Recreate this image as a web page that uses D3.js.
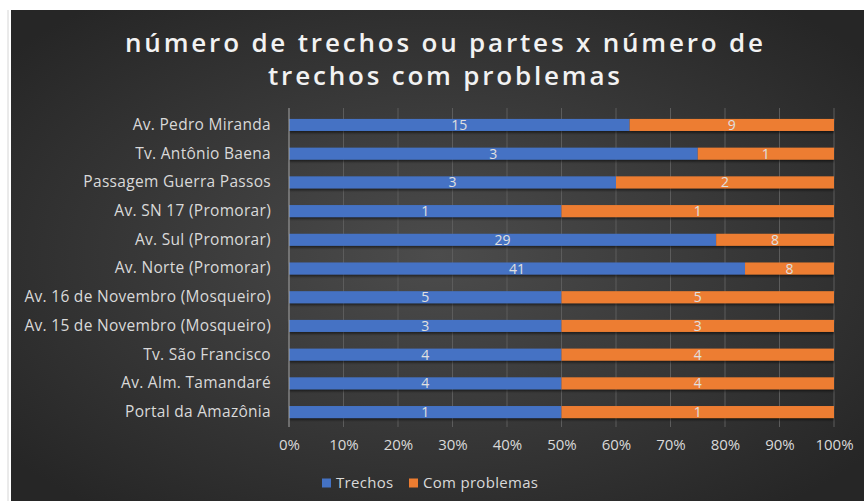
<!DOCTYPE html>
<html lang="en">
<head>
<meta charset="utf-8">
<script src="https://d3js.org/d3.v7.min.js"></script>
<style>
  body { margin: 0; background: #fff; }
  text { font-family: "Open Sans", Lato, sans-serif; }
</style>
</head>
<body>
<script>
// data (top bar first)
const categories = [
  "Av. Pedro Miranda",
  "Tv. Antônio Baena",
  "Passagem Guerra Passos",
  "Av. SN 17 (Promorar)",
  "Av. Sul (Promorar)",
  "Av. Norte (Promorar)",
  "Av. 16 de Novembro (Mosqueiro)",
  "Av. 15 de Novembro (Mosqueiro)",
  "Tv. São Francisco",
  "Av. Alm. Tamandaré",
  "Portal da Amazônia"
];
const trechos = [15, 3, 3, 1, 29, 41, 5, 3, 4, 4, 1];
const comProblemas = [9, 1, 2, 1, 8, 8, 5, 3, 4, 4, 1];
const seriesNames = ["Trechos", "Com problemas"];
const colors = ["#4472c4", "#ed7d31"];
const titleLines = ["número de trechos ou partes x número de", "trechos com problemas"];

const width = 864, height = 501;

const svg = d3.select("body").append("svg")
  .attr("width", width)
  .attr("height", height);

// background gradient like the excel style
const defs = svg.append("defs");
const grad = defs.append("radialGradient")
  .attr("id", "bg")
  .attr("cx", "50%").attr("cy", "50%").attr("r", "65%");
grad.append("stop").attr("offset", "0%").attr("stop-color", "#4c4c4c");
grad.append("stop").attr("offset", "100%").attr("stop-color", "#262626");

const shadow = defs.append("filter").attr("id", "shadow")
  .attr("x", "-5%").attr("y", "-30%").attr("width", "110%").attr("height", "180%");
shadow.append("feDropShadow")
  .attr("dx", 0).attr("dy", 2).attr("stdDeviation", 1.2)
  .attr("flood-color", "#000").attr("flood-opacity", 0.5);

// faint spreadsheet cells on the left
svg.append("line").attr("x1", 8).attr("x2", 8).attr("y1", 10).attr("y2", height)
  .attr("stroke", "#d6d6d6");
svg.append("rect")
  .attr("x", 11).attr("y", 10)
  .attr("width", width - 11).attr("height", height - 10)
  .attr("fill", "url(#bg)");

// title (spaced out like the original)
const titleW = [638, 352];
svg.append("g").selectAll("text")
  .data(titleLines)
  .join("text")
  .attr("x", 444)
  .attr("y", (d, i) => 52 + i * 33)
  .attr("text-anchor", "middle")
  .attr("textLength", (d, i) => titleW[i])
  .attr("lengthAdjust", "spacing")
  .attr("fill", "#f2f2f2")
  .style("font-size", "26px")
  .style("font-weight", "600")
  .text(d => d);

// scales
const x = d3.scaleLinear().domain([0, 1]).range([289, 834]);
const y = d3.scaleBand()
  .domain(categories)
  .range([110.6, 426.4])
  .paddingInner(0.58)
  .paddingOuter(0.29);

// gridlines
const ticks = d3.range(0, 1.0001, 0.1);
svg.append("g").selectAll("line")
  .data(ticks.slice(1))
  .join("line")
  .attr("x1", d => x(d)).attr("x2", d => x(d))
  .attr("y1", 108).attr("y2", 427)
  .attr("stroke", "#5c5c5c")
  .attr("stroke-width", 1);

// stacked data (percentage)
const rows = categories.map((c, i) => {
  const total = trechos[i] + comProblemas[i];
  return { cat: c, vals: [trechos[i], comProblemas[i]], total: total };
});
const segs = [];
rows.forEach(r => {
  let acc = 0;
  r.vals.forEach((v, k) => {
    segs.push({ cat: r.cat, k: k, v: v, x0: acc / r.total, x1: (acc + v) / r.total });
    acc += v;
  });
});

const bars = svg.append("g").attr("filter", "url(#shadow)");
bars.selectAll("rect")
  .data(segs)
  .join("rect")
  .attr("x", d => x(d.x0))
  .attr("width", d => x(d.x1) - x(d.x0))
  .attr("y", d => y(d.cat))
  .attr("height", y.bandwidth())
  .attr("fill", d => colors[d.k]);

// value labels
svg.append("g").selectAll("text")
  .data(segs)
  .join("text")
  .attr("x", d => x((d.x0 + d.x1) / 2))
  .attr("y", d => y(d.cat) + y.bandwidth() / 2)
  .attr("dy", "0.36em")
  .attr("text-anchor", "middle")
  .attr("fill", "#e0e0e0")
  .style("font-size", "14px")
  .text(d => d.v);

// zero axis line
svg.append("line")
  .attr("x1", x(0)).attr("x2", x(0))
  .attr("y1", 108).attr("y2", 427)
  .attr("stroke", "#a6a6a6");

// category axis
const yAxis = svg.append("g")
  .attr("transform", "translate(" + x(0) + ",0)")
  .call(d3.axisLeft(y).tickSize(0).tickPadding(18));
yAxis.select(".domain").remove();
yAxis.selectAll("text")
  .attr("fill", "#d9d9d9")
  .style("font-size", "15.5px")
  .style("letter-spacing", "0.3px")
  .style("font-family", "'Open Sans', sans-serif");

// percent axis
const xAxis = svg.append("g")
  .attr("transform", "translate(0,427)")
  .call(d3.axisBottom(x).tickValues(ticks).tickFormat(d3.format(".0%")).tickSize(0).tickPadding(12));
xAxis.select(".domain").remove();
xAxis.selectAll("text")
  .attr("fill", "#d9d9d9")
  .style("font-size", "15px")
  .style("font-family", "'Open Sans', sans-serif");

// legend
const legend = svg.append("g").attr("transform", "translate(322,483)");
const legX = [0, 87];
const li = legend.selectAll("g")
  .data(seriesNames)
  .join("g")
  .attr("transform", (d, i) => "translate(" + legX[i] + ",0)");
li.append("rect")
  .attr("x", 0).attr("y", -4.5)
  .attr("width", 9).attr("height", 9)
  .attr("fill", (d, i) => colors[i]);
li.append("text")
  .attr("x", 14)
  .attr("y", 0)
  .attr("dy", "0.36em")
  .attr("fill", "#d9d9d9")
  .style("font-size", "15px")
  .style("letter-spacing", "0.3px")
  .text(d => d);
</script>
</body>
</html>
